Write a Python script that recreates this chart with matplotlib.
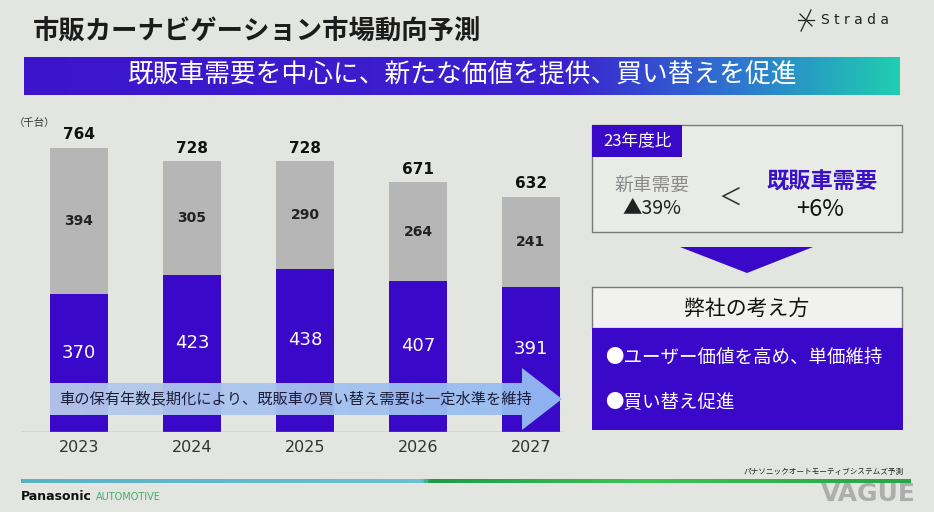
import numpy as np
import matplotlib
matplotlib.use("Agg")
import matplotlib.pyplot as plt
from matplotlib.patches import Polygon, Rectangle
from matplotlib.colors import LinearSegmentedColormap

plt.rcParams['font.family'] = ['Noto Sans CJK JP', 'DejaVu Sans']

# data (thousand units)
years = ['2023', '2024', '2025', '2026', '2027']
existing = [370, 423, 438, 407, 391]   # 既販車需要 (purple)
new_car = [394, 305, 290, 264, 241]    # 新車需要 (gray)
totals = [764, 728, 728, 671, 632]

purple = '#3a08c8'
gray_bar = '#b6b6b6'
bg = '#e3e5e1'

fig = plt.figure(figsize=(9.34, 5.12), dpi=100, facecolor=bg)

# background overlay in pixel coords
ov = fig.add_axes([0, 0, 1, 1], zorder=0)
ov.axis('off')


def grad(axis, x0, x1, y0, y1, stops, clip=None, alpha=1.0):
    cmap = LinearSegmentedColormap.from_list('g', stops)
    g = np.linspace(0, 1, 256).reshape(1, -1)
    im = axis.imshow(g, cmap=cmap, extent=[x0, x1, y1, y0], aspect='auto',
                     interpolation='bilinear', alpha=alpha, zorder=2)
    if clip is not None:
        axis.add_patch(clip)
        im.set_clip_path(clip)
    return im


# header
ov.text(33, 32, '市販カーナビゲーション市場動向予測', fontsize=19, fontweight='bold',
        color='#1c1c1c', va='center', ha='left')
grad(ov, 24, 900, 57, 95, [(0, '#3d14cc'), (0.62, '#3b22cf'), (0.82, '#2d78d0'), (1, '#20cdb0')])
ov.text(462, 76, '既販車需要を中心に、新たな価値を提供、買い替えを促進', fontsize=18.5,
        color='white', va='center', ha='center', zorder=3)

# Strada logo
ov.plot([801, 811], [31, 10], color='#222', lw=0.9)
ov.plot([798, 814], [20, 20], color='#222', lw=0.9)
ov.plot([800, 812], [14, 26], color='#222', lw=0.9)
ov.text(821, 20, 'S t r a d a', fontsize=10, color='#222', va='center', ha='left',
        family='DejaVu Sans')

# right panel
ov.add_patch(Rectangle((592, 125), 310, 107, facecolor='#e9ebe7', edgecolor='#7a7a7a', lw=1, zorder=2))
ov.add_patch(Rectangle((592, 125), 90, 32, facecolor=purple, edgecolor='none', zorder=3))
ov.text(637, 141, '23年度比', fontsize=12, color='white', va='center', ha='center', zorder=4)
ov.text(652, 185, '新車需要', fontsize=13.5, color='#8a8a8a', va='center', ha='center', zorder=4)
ov.text(652, 209, '▲39%', fontsize=14, color='#222', va='center', ha='center', zorder=4)
ov.text(730, 198, '＜', fontsize=17, color='#333', va='center', ha='center', zorder=4)
ov.text(822, 182, '既販車需要', fontsize=16, fontweight='bold', color='#3a10c8',
        va='center', ha='center', zorder=4)
ov.text(820, 210, '+6%', fontsize=17, color='#111', va='center', ha='center', zorder=4)

ov.add_patch(Polygon([(680, 247), (813, 247), (747, 273)], closed=True,
                     facecolor=purple, edgecolor='none', zorder=3))

ov.add_patch(Rectangle((592, 287), 310, 41, facecolor='#f1f2ef', edgecolor='#7a7a7a', lw=1, zorder=2))
ov.text(747, 309, '弊社の考え方', fontsize=15, color='#111', va='center', ha='center', zorder=4)
ov.add_patch(Rectangle((592, 328), 311, 102, facecolor=purple, edgecolor='none', zorder=3))
ov.text(605, 358, '●ユーザー価値を高め、単価維持', fontsize=13.3, color='white',
        va='center', ha='left', zorder=4)
ov.text(605, 403, '●買い替え促進', fontsize=13.3, color='white', va='center', ha='left', zorder=4)

# footer
grad(ov, 21, 911, 479, 483, [(0, '#58b2c6'), (0.45, '#6cc0d0'), (0.46, '#1f9a48'),
                             (0.7, '#3cc456'), (1, '#27a548')])
ov.text(21, 497, 'Panasonic', fontsize=9, fontweight='bold', color='#111',
        va='center', ha='left', family='DejaVu Sans')
ov.text(96, 497, 'AUTOMOTIVE', fontsize=7, color='#3cb060', va='center', ha='left',
        family='DejaVu Sans')
ov.text(904, 472, 'パナソニックオートモーティブシステムズ予測', fontsize=5.5, color='#222',
        va='center', ha='right')
ov.text(868, 494, 'VAGUE', fontsize=18, fontweight='bold', color='#8a8a8a', alpha=0.6,
        va='center', ha='center', family='DejaVu Sans', zorder=5)

ov.text(14, 123, '（千台）', fontsize=7.5, color='#333', va='center', ha='left')

ov.set_xlim(0, 934)
ov.set_ylim(512, 0)

# bar chart
ax = fig.add_axes([20 / 934, 80 / 512, 545 / 934, 312 / 512], zorder=1)
ax.patch.set_alpha(0)
x = np.arange(len(years))
w = 0.513
ax.bar(x, existing, width=w, color=purple, zorder=2)
ax.bar(x, new_car, width=w, bottom=existing, color=gray_bar, zorder=2)
ax.axhline(0, xmin=0.004, xmax=0.994, color='#999999', lw=1, zorder=3)
for i in range(len(years)):
    ax.annotate(str(existing[i]), (x[i], existing[i] / 2), xytext=(0, 7.5),
                textcoords='offset points', ha='center', va='center',
                fontsize=13, color='white', family='DejaVu Sans')
    ax.text(x[i], existing[i] + new_car[i] / 2, str(new_car[i]), ha='center',
            va='center', fontsize=10, fontweight='bold', color='#222', family='DejaVu Sans')
    ax.annotate(str(totals[i]), (x[i], totals[i]), xytext=(0, 9.5),
                textcoords='offset points', ha='center', va='center',
                fontsize=11, fontweight='bold', color='#111', family='DejaVu Sans')
ax.set_xlim(-0.522, 4.301)
ax.set_ylim(0, 839)
ax.set_xticks(x)
ax.set_xticklabels(years, fontsize=11.5, color='#333', family='DejaVu Sans')
ax.tick_params(axis='x', length=0, pad=6)
ax.set_yticks([])
for s in ax.spines.values():
    s.set_visible(False)

# arrow on top of bars
top = fig.add_axes([0, 0, 1, 1], zorder=2)
top.patch.set_alpha(0)
top.axis('off')
arrow = Polygon([(50, 383), (522, 383), (522, 368), (562, 399), (522, 430), (522, 415), (50, 415)],
                closed=True, facecolor='none', edgecolor='none')
grad(top, 50, 562, 368, 430, [(0, '#b8cbea'), (1, '#94bbf3')], clip=arrow, alpha=0.95)
top.text(59, 399, '車の保有年数長期化により、既販車の買い替え需要は一定水準を維持',
         fontsize=11, color='#1e1e3a', va='center', ha='left', zorder=4)
top.set_xlim(0, 934)
top.set_ylim(512, 0)

fig.savefig('out.png', dpi=100, facecolor=bg)
